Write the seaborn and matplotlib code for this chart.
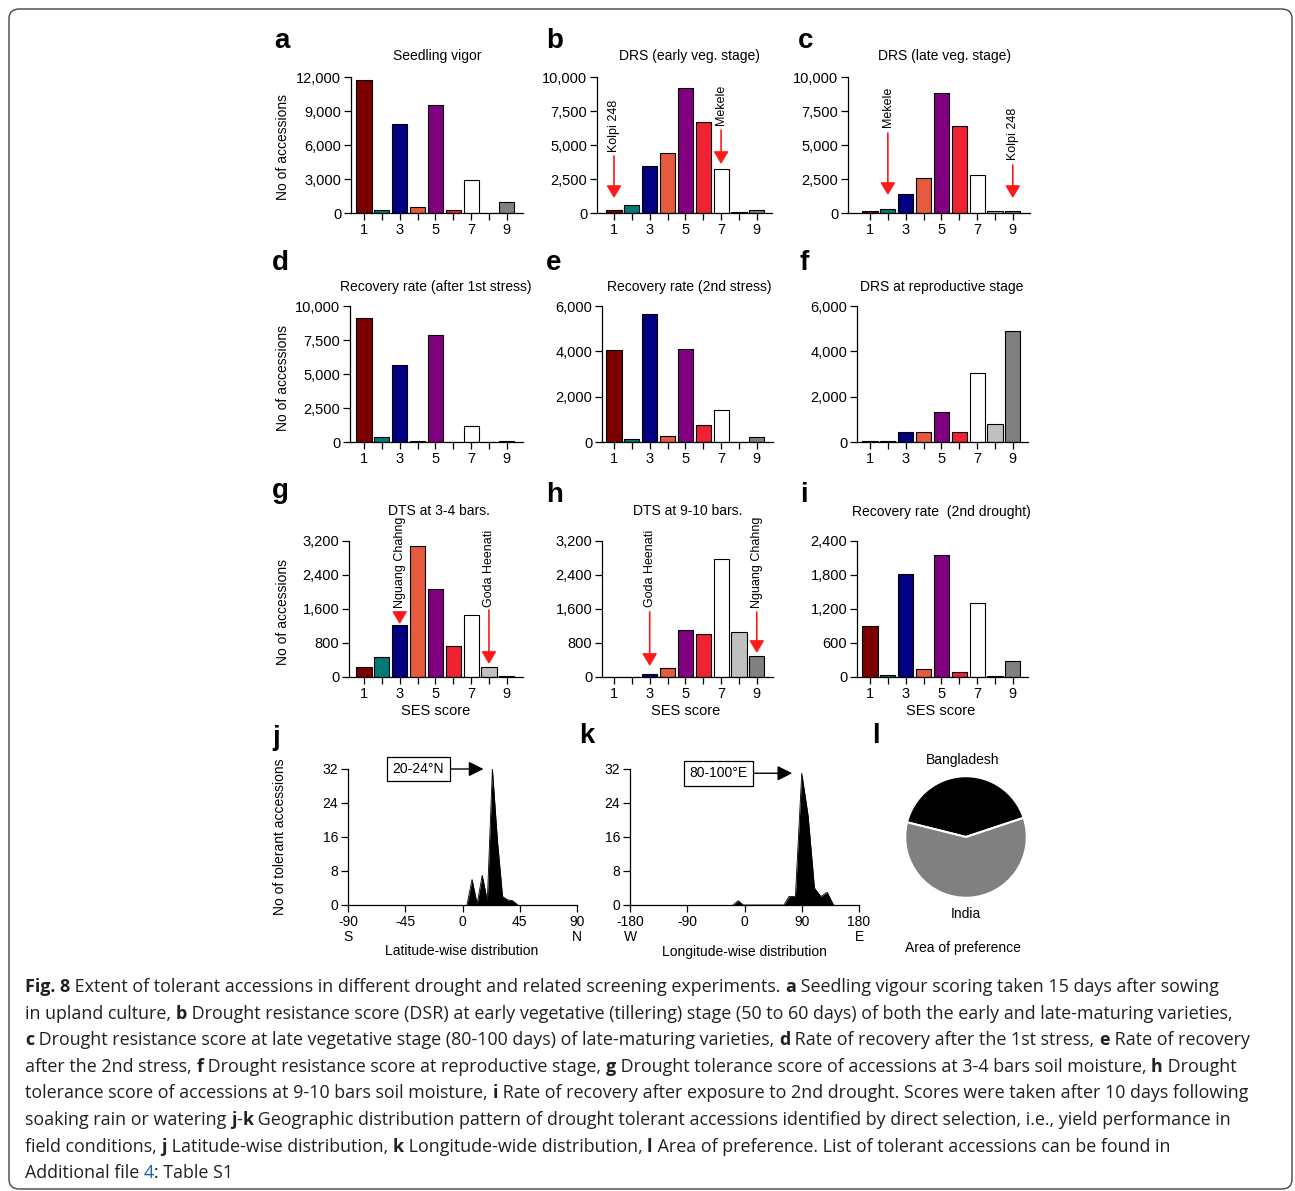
"""Fig. 8 - tolerant accessions across drought screening experiments."""

import matplotlib as mpl
import matplotlib.pyplot as plt
import seaborn as sns
from matplotlib.patches import FancyBboxPatch

W, H, DPI = 1295, 1191, 100

sns.set_theme(style="ticks", rc={
    "axes.edgecolor": "black", "xtick.color": "black", "ytick.color": "black",
    "text.color": "black", "axes.labelcolor": "black", "axes.linewidth": 0.9,
})
mpl.rcParams["font.family"] = ["Liberation Sans", "DejaVu Sans"]

# ---- data -------------------------------------------------------------
SCORES = [1, 2, 3, 4, 5, 6, 7, 8, 9]
SCORE_LABELS = ["1", "3", "5", "7", "9"]
SCORE_COLORS = ["#7b0000", "#007a78", "#000080", "#e65a3e", "#800080",
                "#ee2233", "#ffffff", "#c0c0c0", "#808080"]

SEEDLING_VIGOR = [11700, 250, 7870, 540, 9540, 300, 2920, 40, 950]
DRS_EARLY = [250, 560, 3480, 4420, 9170, 6720, 3240, 70, 240]
DRS_LATE = [120, 320, 1420, 2560, 8820, 6370, 2770, 120, 170]
RECOVERY_1ST = [9100, 370, 5650, 70, 7850, 20, 1150, 0, 100]
RECOVERY_2ND = [4050, 150, 5630, 280, 4090, 760, 1420, 10, 200]
DRS_REPRO = [30, 40, 450, 440, 1320, 450, 3050, 800, 4900]
DTS_3_4 = [243, 478, 1224, 3090, 2078, 722, 1459, 227, 30]
DTS_9_10 = [0, 0, 60, 220, 1106, 1020, 2784, 1059, 494]
RECOVERY_DROUGHT = [906, 30, 1812, 135, 2159, 88, 1300, 24, 288]

TICKS_12K = [0, 3000, 6000, 9000, 12000]
TICKS_10K = [0, 2500, 5000, 7500, 10000]
TICKS_6K = [0, 2000, 4000, 6000]
TICKS_3200 = [0, 800, 1600, 2400, 3200]
TICKS_2400 = [0, 600, 1200, 1800, 2400]

BAR_PANELS = [
    ("a", "Seedling vigor", SEEDLING_VIGOR, TICKS_12K),
    ("b", "DRS (early veg. stage)", DRS_EARLY, TICKS_10K),
    ("c", "DRS (late veg. stage)", DRS_LATE, TICKS_10K),
    ("d", "Recovery rate (after 1st stress)", RECOVERY_1ST, TICKS_10K),
    ("e", "Recovery rate (2nd stress)", RECOVERY_2ND, TICKS_6K),
    ("f", "DRS at reproductive stage", DRS_REPRO, TICKS_6K),
    ("g", "DTS at 3-4 bars.", DTS_3_4, TICKS_3200),
    ("h", "DTS at 9-10 bars.", DTS_9_10, TICKS_3200),
    ("i", "Recovery rate  (2nd drought)", RECOVERY_DROUGHT, TICKS_2400),
]

# name, score, text bottom, arrow start, arrow end (data units)
ARROW_NOTES = {
    "b": [("Kolpi 248", 1, 4500, 4190, 1100), ("Mekele", 7, 6470, 6100, 3600)],
    "c": [("Mekele", 2, 6320, 5880, 1320), ("Kolpi 248", 9, 3900, 3530, 1100)],
    "g": [("Nguang Chahng", 3, 1624, 1530, 1247), ("Goda Heenati", 8, 1647, 1576, 306)],
    "h": [("Goda Heenati", 3, 1647, 1530, 259), ("Nguang Chahng", 9, 1624, 1530, 565)],
}

LAT_DEG = [3.5, 7.5, 11.5, 15.5, 19.5, 23.5, 27.5, 31.5, 35.5, 39.5, 43.5]
LAT_COUNT = [0, 6, 0.3, 7, 1, 32, 15, 2, 1.2, 1, 0]
LAT_TICKS = [-90, -45, 0, 45, 90]
LAT_TICKLABELS = ["-90\nS", "-45", "0", "45", "90\nN"]

LON_DEG = [-18, -10, -2, 62, 70, 80, 90, 100, 110, 120, 130, 140]
LON_COUNT = [0, 1, 0, 0, 2, 2, 31, 21, 4, 2, 3, 0]
LON_TICKS = [-180, -90, 0, 90, 180]
LON_TICKLABELS = ["-180\nW", "-90", "0", "90", "180\nE"]
GEO_YTICKS = [0, 8, 16, 24, 32]

PIE_LABELS = ["Bangladesh", "India"]
PIE_SHARES = [41, 59]
PIE_COLORS = ["#000000", "#808080"]

CAPTION = [
    [("Fig. 8", "b"), (" Extent of tolerant accessions in different drought and related screening experiments. ", "n"),
     ("a", "b"), (" Seedling vigour scoring taken 15 days after sowing", "n")],
    [("in upland culture, ", "n"), ("b", "b"),
     (" Drought resistance score (DSR) at early vegetative (tillering) stage (50 to 60 days) of both the early and late-maturing varieties,", "n")],
    [("c", "b"), (" Drought resistance score at late vegetative stage (80-100 days) of late-maturing varieties, ", "n"),
     ("d", "b"), (" Rate of recovery after the 1st stress, ", "n"), ("e", "b"), (" Rate of recovery", "n")],
    [("after the 2nd stress, ", "n"), ("f", "b"), (" Drought resistance score at reproductive stage, ", "n"),
     ("g", "b"), (" Drought tolerance score of accessions at 3-4 bars soil moisture, ", "n"), ("h", "b"), (" Drought", "n")],
    [("tolerance score of accessions at 9-10 bars soil moisture, ", "n"), ("i", "b"),
     (" Rate of recovery after exposure to 2nd drought. Scores were taken after 10 days following", "n")],
    [("soaking rain or watering ", "n"), ("j", "b"), ("-", "n"), ("k", "b"),
     (" Geographic distribution pattern of drought tolerant accessions identified by direct selection, i.e., yield performance in", "n")],
    [("field conditions, ", "n"), ("j", "b"), (" Latitude-wise distribution, ", "n"), ("k", "b"),
     (" Longitude-wide distribution, ", "n"), ("l", "b"), (" Area of preference. List of tolerant accessions can be found in", "n")],
    [("Additional file ", "n"), ("4", "link"), (": Table S1", "n")],
]

# ---- layout (pixels) --------------------------------------------------
UNIT_PX = 17.85
BAR_BOX = {  # y-axis x, x of score 1, x-axis end, top tick y, zero y
    "a": (351, 364, 523, 77, 213), "b": (597, 614, 772, 77, 213), "c": (848, 870, 1030, 77, 213),
    "d": (350, 364, 523, 306, 442), "e": (602, 614, 773, 306, 442), "f": (857, 870, 1028, 306, 442),
    "g": (349, 364, 523, 541, 677), "h": (602, 614, 773, 541, 677), "i": (857, 870, 1028, 541, 677),
}
TITLE_POS = {"a": (437, 56), "b": (689, 56), "c": (944, 56), "d": (436, 287), "e": (689, 287),
             "f": (942, 287), "g": (439, 511), "h": (688, 511), "i": (941, 512)}
LETTER_POS = {"a": (274, 48), "b": (546, 48), "c": (798, 48), "d": (272, 270), "e": (546, 270),
              "f": (800, 270), "g": (272, 498), "h": (546, 502), "i": (800, 502),
              "j": (272, 745), "k": (579, 743), "l": (872, 743)}


def fx(x):
    return x / W


def fy(y):
    return 1 - y / H


def px_axes(fig, left, top, right, bottom):
    return fig.add_axes([fx(left), fy(bottom), (right - left) / W, (bottom - top) / H])


def style_axis(ax, size=10.5):
    sns.despine(ax=ax)
    ax.tick_params(axis="both", which="both", direction="out", length=5, width=0.9,
                   labelsize=size, pad=2)
    ax.set_xlabel("")
    ax.set_ylabel("")


fig = plt.figure(figsize=(W / DPI, H / DPI), dpi=DPI)
fig.patch.set_facecolor("white")

palette = dict(zip(SCORES, SCORE_COLORS))
for letter, title, values, yticks in BAR_PANELS:
    left, tick1, right, top, zero = BAR_BOX[letter]
    ax = px_axes(fig, left, top, right, zero)
    sns.barplot(x=SCORES, y=values, hue=SCORES, palette=palette, native_scale=True,
                width=0.85, saturation=1, dodge=False, errorbar=None, legend=False,
                edgecolor="black", linewidth=0.8, ax=ax)
    ax.set_xlim(1 - (tick1 - left) / UNIT_PX, 1 + (right - tick1) / UNIT_PX)
    ax.set_ylim(0, yticks[-1])
    ax.set_yticks(yticks, [f"{v:,}" for v in yticks])
    ax.set_xticks([1, 3, 5, 7, 9], SCORE_LABELS)
    ax.set_xticks([2, 4, 6, 8], minor=True)
    style_axis(ax)
    for name, xs, tb, y0, y1 in ARROW_NOTES.get(letter, []):
        ax.annotate("", xy=(xs, y1), xytext=(xs, y0), annotation_clip=False,
                    arrowprops=dict(arrowstyle="-|>,head_length=0.75,head_width=0.45",
                                    color="#ff1a1a", lw=1.2, shrinkA=0, shrinkB=0,
                                    mutation_scale=10))
        ax.text(xs, tb, name, rotation=90, ha="center", va="bottom", fontsize=9)
    tx, ty = TITLE_POS[letter]
    fig.text(fx(tx), fy(ty), title, ha="center", va="center", fontsize=10)

for y in (147, 378, 612):
    fig.text(fx(283), fy(y), "No of accessions", rotation=90, ha="center", va="center", fontsize=10)
for x in (436, 686, 941):
    fig.text(fx(x), fy(711), "SES score", ha="center", va="center", fontsize=10.5)

# ---- j: latitude ------------------------------------------------------
ax = px_axes(fig, 348, 769, 577, 905)
ax.fill_between(LAT_DEG, LAT_COUNT, color="black", lw=0)
sns.lineplot(x=LAT_DEG, y=LAT_COUNT, color="black", lw=0.6, ax=ax)
ax.set_xlim(-90, 90)
ax.set_ylim(0, 32)
ax.set_xticks(LAT_TICKS, LAT_TICKLABELS)
ax.set_yticks(GEO_YTICKS)
style_axis(ax, 10)
for lab in ax.get_xticklabels():
    lab.set_verticalalignment("top")
    lab.set_linespacing(1.15)
ax.annotate("20-24°N", xy=(16.5, 32), xytext=(-34.6, 32), ha="center", va="center", fontsize=10,
            bbox=dict(boxstyle="square,pad=0.38", fc="white", ec="black", lw=0.9),
            arrowprops=dict(arrowstyle="-|>,head_length=0.9,head_width=0.45", color="black",
                            lw=1.0, shrinkA=0, shrinkB=0, mutation_scale=10))
fig.text(fx(462), fy(951), "Latitude-wise distribution", ha="center", va="center", fontsize=10)
fig.text(fx(280), fy(837), "No of tolerant accessions", rotation=90, ha="center", va="center", fontsize=10)

# ---- k: longitude -----------------------------------------------------
ax = px_axes(fig, 630, 769, 859, 905)
ax.fill_between(LON_DEG, LON_COUNT, color="black", lw=0)
sns.lineplot(x=LON_DEG, y=LON_COUNT, color="black", lw=0.6, ax=ax)
ax.set_xlim(-180, 180)
ax.set_ylim(0, 32)
ax.set_xticks(LON_TICKS, LON_TICKLABELS)
ax.set_yticks(GEO_YTICKS)
style_axis(ax, 10)
for lab in ax.get_xticklabels():
    lab.set_verticalalignment("top")
    lab.set_linespacing(1.15)
ax.annotate("80-100°E", xy=(75, 31), xytext=(-41, 31), ha="center", va="center", fontsize=10,
            bbox=dict(boxstyle="square,pad=0.38", fc="white", ec="black", lw=0.9),
            arrowprops=dict(arrowstyle="-|>,head_length=0.9,head_width=0.45", color="black",
                            lw=1.0, shrinkA=0, shrinkB=0, mutation_scale=10))
fig.text(fx(744), fy(952), "Longitude-wise distribution", ha="center", va="center", fontsize=10)

# ---- l: pie -----------------------------------------------------------
ax = px_axes(fig, 904, 775, 1028, 899)
ax.pie(PIE_SHARES, colors=PIE_COLORS, startangle=18.4, counterclock=True, radius=1,
       wedgeprops=dict(edgecolor="white", linewidth=1.5))
ax.set_xlim(-1.02, 1.02)
ax.set_ylim(-1.02, 1.02)
ax.set_aspect("equal")
ax.axis("off")
fig.text(fx(963), fy(760), PIE_LABELS[0], ha="center", va="center", fontsize=10)
fig.text(fx(966), fy(914), PIE_LABELS[1], ha="center", va="center", fontsize=10)
fig.text(fx(963), fy(948), "Area of preference", ha="center", va="center", fontsize=10)

# ---- panel letters ----------------------------------------------------
for letter, (lx, ly) in LETTER_POS.items():
    fig.text(fx(lx), fy(ly), letter, ha="left", va="baseline", fontsize=20, fontweight="bold")

# ---- frame + caption --------------------------------------------------
fig.patches.append(FancyBboxPatch(
    (fx(9), fy(1189)), 1283 / W, 1180 / H, transform=fig.transFigure,
    boxstyle="round,pad=0,rounding_size=0.008", fc="none", ec="#444444", lw=1.0))

CAP_FONT = ["Open Sans", "DejaVu Sans"]
CAP_SIZE = 12.85
renderer = fig.canvas.get_renderer()


def text_width(s, weight):
    probe = fig.text(0, 0, s + "|", fontsize=CAP_SIZE, family=CAP_FONT, fontweight=weight)
    bar = fig.text(0, 0, "|", fontsize=CAP_SIZE, family=CAP_FONT, fontweight=weight)
    w = probe.get_window_extent(renderer).width - bar.get_window_extent(renderer).width
    probe.remove()
    bar.remove()
    return w


for i, parts in enumerate(CAPTION):
    x = 25
    base = 992 + i * 26.6
    for s, kind in parts:
        weight = "bold" if kind == "b" else "normal"
        color = "#1a5fb4" if kind == "link" else "#231f20"
        fig.text(fx(x), fy(base), s, ha="left", va="baseline", fontsize=CAP_SIZE,
                 family=CAP_FONT, fontweight=weight, color=color)
        x += text_width(s, weight)

fig.savefig("out.png", dpi=DPI)
